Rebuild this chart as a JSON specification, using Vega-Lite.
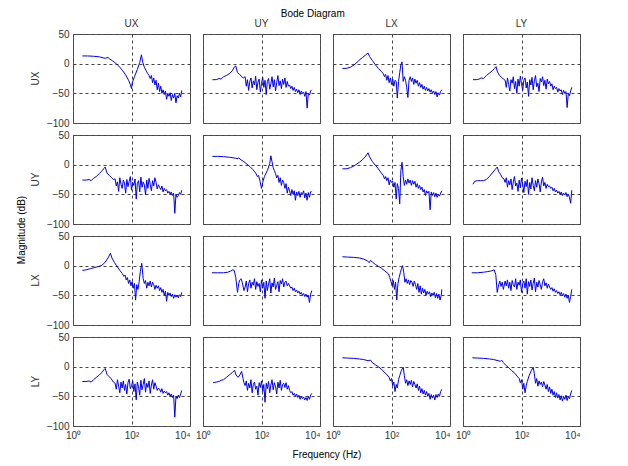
{
"$schema":"https://vega.github.io/schema/vega-lite/v6.json",
"background":"white",
"padding":{"left":16,"top":9,"right":5,"bottom":5},
"title":{"text":"Bode Diagram","fontSize":10,"fontWeight":"normal","font":"Liberation Sans","color":"#000","offset":0,"anchor":"middle","dx":14},
"data":{"values":[
{"r":"UX","c":"UX","f":2.09,"m":13},{"r":"UX","c":"UX","f":3.16,"m":13},{"r":"UX","c":"UX","f":5.01,"m":12.5},{"r":"UX","c":"UX","f":7.94,"m":11.5},{"r":"UX","c":"UX","f":12.6,"m":9},{"r":"UX","c":"UX","f":15.8,"m":10.5},{"r":"UX","c":"UX","f":17.8,"m":8},{"r":"UX","c":"UX","f":22.4,"m":5},{"r":"UX","c":"UX","f":31.6,"m":-1},{"r":"UX","c":"UX","f":39.8,"m":-6},{"r":"UX","c":"UX","f":50.1,"m":-12},{"r":"UX","c":"UX","f":63.1,"m":-19},{"r":"UX","c":"UX","f":79.4,"m":-28},{"r":"UX","c":"UX","f":91.2,"m":-35},{"r":"UX","c":"UX","f":100,"m":-42},{"r":"UX","c":"UX","f":105,"m":-33},{"r":"UX","c":"UX","f":126,"m":-22},{"r":"UX","c":"UX","f":158,"m":-10},{"r":"UX","c":"UX","f":191,"m":2},{"r":"UX","c":"UX","f":219,"m":15},{"r":"UX","c":"UX","f":240,"m":3},{"r":"UX","c":"UX","f":275,"m":-6},{"r":"UX","c":"UX","f":316,"m":-12},{"r":"UX","c":"UX","f":363,"m":-17},{"r":"UX","c":"UX","f":398,"m":-20},{"r":"UX","c":"UX","f":437,"m":-25},{"r":"UX","c":"UX","f":479,"m":-20},{"r":"UX","c":"UX","f":525,"m":-32},{"r":"UX","c":"UX","f":575,"m":-24},{"r":"UX","c":"UX","f":631,"m":-36},{"r":"UX","c":"UX","f":692,"m":-28},{"r":"UX","c":"UX","f":759,"m":-44},{"r":"UX","c":"UX","f":832,"m":-33},{"r":"UX","c":"UX","f":912,"m":-47},{"r":"UX","c":"UX","f":1000,"m":-38},{"r":"UX","c":"UX","f":1096,"m":-50},{"r":"UX","c":"UX","f":1202,"m":-44},{"r":"UX","c":"UX","f":1318,"m":-52},{"r":"UX","c":"UX","f":1445,"m":-46},{"r":"UX","c":"UX","f":1585,"m":-60},{"r":"UX","c":"UX","f":1738,"m":-50},{"r":"UX","c":"UX","f":1905,"m":-55},{"r":"UX","c":"UX","f":2089,"m":-49},{"r":"UX","c":"UX","f":2291,"m":-62},{"r":"UX","c":"UX","f":2512,"m":-52},{"r":"UX","c":"UX","f":2754,"m":-58},{"r":"UX","c":"UX","f":3020,"m":-50},{"r":"UX","c":"UX","f":3311,"m":-66},{"r":"UX","c":"UX","f":3631,"m":-54},{"r":"UX","c":"UX","f":3981,"m":-58},{"r":"UX","c":"UX","f":4365,"m":-50},{"r":"UX","c":"UX","f":4786,"m":-56},{"r":"UX","c":"UX","f":5248,"m":-45},

{"r":"UX","c":"UY","f":2.09,"m":-27},{"r":"UX","c":"UY","f":2.82,"m":-27},{"r":"UX","c":"UY","f":3.55,"m":-25},{"r":"UX","c":"UY","f":4.17,"m":-26},{"r":"UX","c":"UY","f":5.01,"m":-22},{"r":"UX","c":"UY","f":6.31,"m":-20},{"r":"UX","c":"UY","f":7.94,"m":-17},{"r":"UX","c":"UY","f":10,"m":-12},{"r":"UX","c":"UY","f":12.0,"m":-5},{"r":"UX","c":"UY","f":13.2,"m":-4},{"r":"UX","c":"UY","f":15.1,"m":-15},{"r":"UX","c":"UY","f":17.8,"m":-18},{"r":"UX","c":"UY","f":20.9,"m":-22},{"r":"UX","c":"UY","f":24.0,"m":-24},
{"r":"UX","c":"UY","f":27.5,"m":-22},{"r":"UX","c":"UY","f":30.2,"m":-38},{"r":"UX","c":"UY","f":33.1,"m":-27},{"r":"UX","c":"UY","f":36.3,"m":-45},{"r":"UX","c":"UY","f":39.8,"m":-30},{"r":"UX","c":"UY","f":43.7,"m":-24},{"r":"UX","c":"UY","f":47.9,"m":-41},{"r":"UX","c":"UY","f":52.5,"m":-29},{"r":"UX","c":"UY","f":57.5,"m":-36},{"r":"UX","c":"UY","f":63.1,"m":-21},{"r":"UX","c":"UY","f":69.2,"m":-44},{"r":"UX","c":"UY","f":75.9,"m":-31},{"r":"UX","c":"UY","f":83.2,"m":-26},{"r":"UX","c":"UY","f":91.2,"m":-48},{"r":"UX","c":"UY","f":100,"m":-33},{"r":"UX","c":"UY","f":110,"m":-23},{"r":"UX","c":"UY","f":120,"m":-40},{"r":"UX","c":"UY","f":132,"m":-28},{"r":"UX","c":"UY","f":145,"m":-52},{"r":"UX","c":"UY","f":158,"m":-30},{"r":"UX","c":"UY","f":174,"m":-25},{"r":"UX","c":"UY","f":191,"m":-43},{"r":"UX","c":"UY","f":209,"m":-34},{"r":"UX","c":"UY","f":229,"m":-22},{"r":"UX","c":"UY","f":251,"m":-39},{"r":"UX","c":"UY","f":275,"m":-27},{"r":"UX","c":"UY","f":302,"m":-46},{"r":"UX","c":"UY","f":331,"m":-32},{"r":"UX","c":"UY","f":363,"m":-20},{"r":"UX","c":"UY","f":398,"m":-37},{"r":"UX","c":"UY","f":437,"m":-29},{"r":"UX","c":"UY","f":479,"m":-42},{"r":"UX","c":"UY","f":525,"m":-26},{"r":"UX","c":"UY","f":575,"m":-35},{"r":"UX","c":"UY","f":631,"m":-24},{"r":"UX","c":"UY","f":692,"m":-40},{"r":"UX","c":"UY","f":759,"m":-30},{"r":"UX","c":"UY","f":832,"m":-38},
{"r":"UX","c":"UY","f":912,"m":-36},{"r":"UX","c":"UY","f":1000,"m":-42},{"r":"UX","c":"UY","f":1096,"m":-38},{"r":"UX","c":"UY","f":1202,"m":-45},{"r":"UX","c":"UY","f":1318,"m":-40},{"r":"UX","c":"UY","f":1445,"m":-47},{"r":"UX","c":"UY","f":1585,"m":-43},{"r":"UX","c":"UY","f":1738,"m":-49},{"r":"UX","c":"UY","f":1905,"m":-44},{"r":"UX","c":"UY","f":2089,"m":-52},{"r":"UX","c":"UY","f":2291,"m":-46},{"r":"UX","c":"UY","f":2512,"m":-50},{"r":"UX","c":"UY","f":2754,"m":-48},{"r":"UX","c":"UY","f":3020,"m":-55},{"r":"UX","c":"UY","f":3311,"m":-47},{"r":"UX","c":"UY","f":3631,"m":-75},{"r":"UX","c":"UY","f":3981,"m":-50},{"r":"UX","c":"UY","f":4365,"m":-53},{"r":"UX","c":"UY","f":4786,"m":-46},{"r":"UX","c":"UY","f":5248,"m":-44},

{"r":"UX","c":"LX","f":2.09,"m":-8},{"r":"UX","c":"LX","f":2.82,"m":-8},{"r":"UX","c":"LX","f":3.98,"m":-6},{"r":"UX","c":"LX","f":5.62,"m":-1},{"r":"UX","c":"LX","f":7.94,"m":6},{"r":"UX","c":"LX","f":10,"m":10},{"r":"UX","c":"LX","f":12.6,"m":14},{"r":"UX","c":"LX","f":15.8,"m":18},{"r":"UX","c":"LX","f":17.8,"m":12},{"r":"UX","c":"LX","f":22.4,"m":5},{"r":"UX","c":"LX","f":28.2,"m":-2},{"r":"UX","c":"LX","f":35.5,"m":-8},{"r":"UX","c":"LX","f":44.7,"m":-13},{"r":"UX","c":"LX","f":52.5,"m":-17},{"r":"UX","c":"LX","f":57.5,"m":-22},{"r":"UX","c":"LX","f":63.1,"m":-18},{"r":"UX","c":"LX","f":69.2,"m":-28},{"r":"UX","c":"LX","f":75.9,"m":-20},{"r":"UX","c":"LX","f":83.2,"m":-32},{"r":"UX","c":"LX","f":91.2,"m":-24},{"r":"UX","c":"LX","f":100,"m":-35},{"r":"UX","c":"LX","f":110,"m":-26},{"r":"UX","c":"LX","f":120,"m":-38},{"r":"UX","c":"LX","f":132,"m":-28},{"r":"UX","c":"LX","f":145,"m":-30},{"r":"UX","c":"LX","f":158,"m":-58},{"r":"UX","c":"LX","f":174,"m":-30},{"r":"UX","c":"LX","f":191,"m":-15},{"r":"UX","c":"LX","f":209,"m":-2},{"r":"UX","c":"LX","f":229,"m":3},{"r":"UX","c":"LX","f":251,"m":-30},{"r":"UX","c":"LX","f":275,"m":-22},{"r":"UX","c":"LX","f":302,"m":-28},{"r":"UX","c":"LX","f":331,"m":-40},{"r":"UX","c":"LX","f":363,"m":-57},{"r":"UX","c":"LX","f":398,"m":-28},{"r":"UX","c":"LX","f":437,"m":-22},{"r":"UX","c":"LX","f":479,"m":-30},{"r":"UX","c":"LX","f":525,"m":-24},{"r":"UX","c":"LX","f":575,"m":-35},{"r":"UX","c":"LX","f":631,"m":-26},{"r":"UX","c":"LX","f":692,"m":-33},{"r":"UX","c":"LX","f":759,"m":-28},{"r":"UX","c":"LX","f":832,"m":-38},{"r":"UX","c":"LX","f":912,"m":-32},{"r":"UX","c":"LX","f":1000,"m":-40},{"r":"UX","c":"LX","f":1096,"m":-35},{"r":"UX","c":"LX","f":1202,"m":-43},{"r":"UX","c":"LX","f":1318,"m":-38},{"r":"UX","c":"LX","f":1445,"m":-45},{"r":"UX","c":"LX","f":1585,"m":-40},{"r":"UX","c":"LX","f":1738,"m":-46},{"r":"UX","c":"LX","f":1905,"m":-42},{"r":"UX","c":"LX","f":2089,"m":-48},{"r":"UX","c":"LX","f":2291,"m":-44},{"r":"UX","c":"LX","f":2512,"m":-50},{"r":"UX","c":"LX","f":2754,"m":-46},{"r":"UX","c":"LX","f":3020,"m":-52},{"r":"UX","c":"LX","f":3311,"m":-47},{"r":"UX","c":"LX","f":3631,"m":-56},{"r":"UX","c":"LX","f":3981,"m":-49},{"r":"UX","c":"LX","f":4365,"m":-53},{"r":"UX","c":"LX","f":4786,"m":-47},{"r":"UX","c":"LX","f":5248,"m":-44},

{"r":"UX","c":"LY","f":2.19,"m":-27},{"r":"UX","c":"LY","f":2.82,"m":-27},{"r":"UX","c":"LY","f":3.55,"m":-26},{"r":"UX","c":"LY","f":4.17,"m":-24},{"r":"UX","c":"LY","f":5.01,"m":-25},{"r":"UX","c":"LY","f":6.31,"m":-20},{"r":"UX","c":"LY","f":7.94,"m":-16},{"r":"UX","c":"LY","f":10,"m":-12},{"r":"UX","c":"LY","f":12.0,"m":-8},{"r":"UX","c":"LY","f":13.5,"m":-5},{"r":"UX","c":"LY","f":15.1,"m":-14},{"r":"UX","c":"LY","f":17.8,"m":-20},{"r":"UX","c":"LY","f":20.9,"m":-23},{"r":"UX","c":"LY","f":24.0,"m":-26},
{"r":"UX","c":"LY","f":27.5,"m":-28},{"r":"UX","c":"LY","f":30.2,"m":-40},{"r":"UX","c":"LY","f":33.1,"m":-24},{"r":"UX","c":"LY","f":36.3,"m":-35},{"r":"UX","c":"LY","f":39.8,"m":-46},{"r":"UX","c":"LY","f":43.7,"m":-27},{"r":"UX","c":"LY","f":47.9,"m":-33},{"r":"UX","c":"LY","f":52.5,"m":-22},{"r":"UX","c":"LY","f":57.5,"m":-42},{"r":"UX","c":"LY","f":63.1,"m":-30},{"r":"UX","c":"LY","f":69.2,"m":-50},{"r":"UX","c":"LY","f":75.9,"m":-26},{"r":"UX","c":"LY","f":83.2,"m":-38},{"r":"UX","c":"LY","f":91.2,"m":-21},{"r":"UX","c":"LY","f":100,"m":-34},{"r":"UX","c":"LY","f":110,"m":-45},{"r":"UX","c":"LY","f":120,"m":-28},{"r":"UX","c":"LY","f":132,"m":-24},{"r":"UX","c":"LY","f":145,"m":-41},{"r":"UX","c":"LY","f":158,"m":-31},{"r":"UX","c":"LY","f":174,"m":-55},{"r":"UX","c":"LY","f":191,"m":-27},{"r":"UX","c":"LY","f":209,"m":-36},{"r":"UX","c":"LY","f":229,"m":-23},{"r":"UX","c":"LY","f":251,"m":-44},{"r":"UX","c":"LY","f":275,"m":-29},{"r":"UX","c":"LY","f":302,"m":-20},{"r":"UX","c":"LY","f":331,"m":-39},{"r":"UX","c":"LY","f":363,"m":-33},{"r":"UX","c":"LY","f":398,"m":-47},{"r":"UX","c":"LY","f":437,"m":-25},{"r":"UX","c":"LY","f":479,"m":-31},{"r":"UX","c":"LY","f":525,"m":-22},{"r":"UX","c":"LY","f":575,"m":-37},{"r":"UX","c":"LY","f":631,"m":-28},{"r":"UX","c":"LY","f":692,"m":-43},{"r":"UX","c":"LY","f":759,"m":-26},{"r":"UX","c":"LY","f":832,"m":-34},
{"r":"UX","c":"LY","f":912,"m":-30},{"r":"UX","c":"LY","f":1000,"m":-38},{"r":"UX","c":"LY","f":1096,"m":-34},{"r":"UX","c":"LY","f":1202,"m":-44},{"r":"UX","c":"LY","f":1318,"m":-38},{"r":"UX","c":"LY","f":1445,"m":-42},{"r":"UX","c":"LY","f":1585,"m":-40},{"r":"UX","c":"LY","f":1738,"m":-48},{"r":"UX","c":"LY","f":1905,"m":-42},{"r":"UX","c":"LY","f":2089,"m":-46},{"r":"UX","c":"LY","f":2291,"m":-44},{"r":"UX","c":"LY","f":2512,"m":-52},{"r":"UX","c":"LY","f":2754,"m":-45},{"r":"UX","c":"LY","f":3020,"m":-50},{"r":"UX","c":"LY","f":3311,"m":-47},{"r":"UX","c":"LY","f":3631,"m":-74},{"r":"UX","c":"LY","f":3981,"m":-50},{"r":"UX","c":"LY","f":4365,"m":-54},{"r":"UX","c":"LY","f":4786,"m":-46},{"r":"UX","c":"LY","f":5248,"m":-40},

{"r":"UY","c":"UX","f":2.09,"m":-26},{"r":"UY","c":"UX","f":2.82,"m":-26},{"r":"UY","c":"UX","f":3.55,"m":-25},{"r":"UY","c":"UX","f":4.17,"m":-27},{"r":"UY","c":"UX","f":5.01,"m":-23},{"r":"UY","c":"UX","f":6.31,"m":-20},{"r":"UY","c":"UX","f":7.94,"m":-15},{"r":"UY","c":"UX","f":10,"m":-10},{"r":"UY","c":"UX","f":11.5,"m":-6},{"r":"UY","c":"UX","f":12.6,"m":-4},{"r":"UY","c":"UX","f":14.5,"m":-14},{"r":"UY","c":"UX","f":17.4,"m":-18},{"r":"UY","c":"UX","f":20.9,"m":-22},{"r":"UY","c":"UX","f":24.0,"m":-25},
{"r":"UY","c":"UX","f":27.5,"m":-24},{"r":"UY","c":"UX","f":30.2,"m":-36},{"r":"UY","c":"UX","f":33.1,"m":-29},{"r":"UY","c":"UX","f":36.3,"m":-45},{"r":"UY","c":"UX","f":39.8,"m":-22},{"r":"UY","c":"UX","f":43.7,"m":-33},{"r":"UY","c":"UX","f":47.9,"m":-40},{"r":"UY","c":"UX","f":52.5,"m":-26},{"r":"UY","c":"UX","f":57.5,"m":-31},{"r":"UY","c":"UX","f":63.1,"m":-48},{"r":"UY","c":"UX","f":69.2,"m":-25},{"r":"UY","c":"UX","f":75.9,"m":-37},{"r":"UY","c":"UX","f":83.2,"m":-28},{"r":"UY","c":"UX","f":91.2,"m":-20},{"r":"UY","c":"UX","f":100,"m":-43},{"r":"UY","c":"UX","f":110,"m":-30},{"r":"UY","c":"UX","f":120,"m":-35},{"r":"UY","c":"UX","f":132,"m":-24},{"r":"UY","c":"UX","f":145,"m":-58},{"r":"UY","c":"UX","f":158,"m":-32},{"r":"UY","c":"UX","f":174,"m":-27},{"r":"UY","c":"UX","f":191,"m":-46},{"r":"UY","c":"UX","f":209,"m":-21},{"r":"UY","c":"UX","f":229,"m":-38},{"r":"UY","c":"UX","f":251,"m":-29},{"r":"UY","c":"UX","f":275,"m":-34},{"r":"UY","c":"UX","f":302,"m":-51},{"r":"UY","c":"UX","f":331,"m":-26},{"r":"UY","c":"UX","f":363,"m":-40},{"r":"UY","c":"UX","f":398,"m":-23},{"r":"UY","c":"UX","f":437,"m":-33},{"r":"UY","c":"UX","f":479,"m":-44},{"r":"UY","c":"UX","f":525,"m":-27},{"r":"UY","c":"UX","f":575,"m":-36},{"r":"UY","c":"UX","f":631,"m":-22},{"r":"UY","c":"UX","f":692,"m":-30},{"r":"UY","c":"UX","f":759,"m":-41},{"r":"UY","c":"UX","f":832,"m":-34},
{"r":"UY","c":"UX","f":912,"m":-38},{"r":"UY","c":"UX","f":1000,"m":-42},{"r":"UY","c":"UX","f":1096,"m":-36},{"r":"UY","c":"UX","f":1202,"m":-46},{"r":"UY","c":"UX","f":1318,"m":-40},{"r":"UY","c":"UX","f":1445,"m":-44},{"r":"UY","c":"UX","f":1585,"m":-42},{"r":"UY","c":"UX","f":1738,"m":-48},{"r":"UY","c":"UX","f":1905,"m":-45},{"r":"UY","c":"UX","f":2089,"m":-50},{"r":"UY","c":"UX","f":2291,"m":-46},{"r":"UY","c":"UX","f":2512,"m":-52},{"r":"UY","c":"UX","f":2754,"m":-48},{"r":"UY","c":"UX","f":3020,"m":-82},{"r":"UY","c":"UX","f":3311,"m":-50},{"r":"UY","c":"UX","f":3631,"m":-55},{"r":"UY","c":"UX","f":3981,"m":-52},{"r":"UY","c":"UX","f":4365,"m":-47},{"r":"UY","c":"UX","f":4786,"m":-50},{"r":"UY","c":"UX","f":5248,"m":-43},

{"r":"UY","c":"UY","f":2.09,"m":14},{"r":"UY","c":"UY","f":3.16,"m":14},{"r":"UY","c":"UY","f":5.01,"m":13.5},{"r":"UY","c":"UY","f":7.94,"m":12.5},{"r":"UY","c":"UY","f":12.6,"m":11},{"r":"UY","c":"UY","f":15.8,"m":10},{"r":"UY","c":"UY","f":16.6,"m":11.5},{"r":"UY","c":"UY","f":20.0,"m":8},{"r":"UY","c":"UY","f":25.1,"m":5},{"r":"UY","c":"UY","f":31.6,"m":1},{"r":"UY","c":"UY","f":39.8,"m":-3},{"r":"UY","c":"UY","f":50.1,"m":-8},{"r":"UY","c":"UY","f":63.1,"m":-14},{"r":"UY","c":"UY","f":72.4,"m":-20},{"r":"UY","c":"UY","f":79.4,"m":-18},{"r":"UY","c":"UY","f":89.1,"m":-28},{"r":"UY","c":"UY","f":100,"m":-40},{"r":"UY","c":"UY","f":110,"m":-30},{"r":"UY","c":"UY","f":126,"m":-20},{"r":"UY","c":"UY","f":158,"m":-10},{"r":"UY","c":"UY","f":191,"m":2},{"r":"UY","c":"UY","f":209,"m":15},{"r":"UY","c":"UY","f":229,"m":5},{"r":"UY","c":"UY","f":251,"m":-5},{"r":"UY","c":"UY","f":275,"m":-10},{"r":"UY","c":"UY","f":302,"m":-15},{"r":"UY","c":"UY","f":331,"m":-22},{"r":"UY","c":"UY","f":363,"m":-18},{"r":"UY","c":"UY","f":398,"m":-30},{"r":"UY","c":"UY","f":437,"m":-22},{"r":"UY","c":"UY","f":479,"m":-35},{"r":"UY","c":"UY","f":525,"m":-26},{"r":"UY","c":"UY","f":575,"m":-30},{"r":"UY","c":"UY","f":631,"m":-40},{"r":"UY","c":"UY","f":692,"m":-32},{"r":"UY","c":"UY","f":759,"m":-48},{"r":"UY","c":"UY","f":832,"m":-38},{"r":"UY","c":"UY","f":912,"m":-44},{"r":"UY","c":"UY","f":1000,"m":-52},{"r":"UY","c":"UY","f":1096,"m":-42},{"r":"UY","c":"UY","f":1202,"m":-50},{"r":"UY","c":"UY","f":1318,"m":-44},{"r":"UY","c":"UY","f":1445,"m":-60},{"r":"UY","c":"UY","f":1585,"m":-46},{"r":"UY","c":"UY","f":1738,"m":-52},{"r":"UY","c":"UY","f":1905,"m":-45},{"r":"UY","c":"UY","f":2089,"m":-55},{"r":"UY","c":"UY","f":2291,"m":-47},{"r":"UY","c":"UY","f":2512,"m":-50},{"r":"UY","c":"UY","f":2754,"m":-44},{"r":"UY","c":"UY","f":3020,"m":-56},{"r":"UY","c":"UY","f":3311,"m":-48},{"r":"UY","c":"UY","f":3631,"m":-60},{"r":"UY","c":"UY","f":3981,"m":-47},{"r":"UY","c":"UY","f":4365,"m":-55},{"r":"UY","c":"UY","f":4786,"m":-46},{"r":"UY","c":"UY","f":5248,"m":-44},

{"r":"UY","c":"LX","f":2.09,"m":-7},{"r":"UY","c":"LX","f":2.82,"m":-7},{"r":"UY","c":"LX","f":3.98,"m":-5},{"r":"UY","c":"LX","f":5.62,"m":-1},{"r":"UY","c":"LX","f":7.94,"m":4},{"r":"UY","c":"LX","f":10,"m":8},{"r":"UY","c":"LX","f":12.6,"m":13},{"r":"UY","c":"LX","f":15.8,"m":20},{"r":"UY","c":"LX","f":17.8,"m":13},{"r":"UY","c":"LX","f":22.4,"m":5},{"r":"UY","c":"LX","f":28.2,"m":-1},{"r":"UY","c":"LX","f":35.5,"m":-7},{"r":"UY","c":"LX","f":44.7,"m":-14},{"r":"UY","c":"LX","f":52.5,"m":-18},{"r":"UY","c":"LX","f":57.5,"m":-24},{"r":"UY","c":"LX","f":63.1,"m":-20},{"r":"UY","c":"LX","f":69.2,"m":-27},{"r":"UY","c":"LX","f":75.9,"m":-22},{"r":"UY","c":"LX","f":83.2,"m":-34},{"r":"UY","c":"LX","f":91.2,"m":-26},{"r":"UY","c":"LX","f":100,"m":-30},{"r":"UY","c":"LX","f":110,"m":-28},{"r":"UY","c":"LX","f":120,"m":-38},{"r":"UY","c":"LX","f":132,"m":-30},{"r":"UY","c":"LX","f":145,"m":-58},{"r":"UY","c":"LX","f":158,"m":-32},{"r":"UY","c":"LX","f":174,"m":-40},{"r":"UY","c":"LX","f":191,"m":-66},{"r":"UY","c":"LX","f":209,"m":-10},{"r":"UY","c":"LX","f":229,"m":4},{"r":"UY","c":"LX","f":251,"m":-20},{"r":"UY","c":"LX","f":275,"m":-35},{"r":"UY","c":"LX","f":302,"m":-26},{"r":"UY","c":"LX","f":331,"m":-33},{"r":"UY","c":"LX","f":363,"m":-24},{"r":"UY","c":"LX","f":398,"m":-31},{"r":"UY","c":"LX","f":437,"m":-26},{"r":"UY","c":"LX","f":479,"m":-35},{"r":"UY","c":"LX","f":525,"m":-27},{"r":"UY","c":"LX","f":575,"m":-33},{"r":"UY","c":"LX","f":631,"m":-28},{"r":"UY","c":"LX","f":692,"m":-38},{"r":"UY","c":"LX","f":759,"m":-32},{"r":"UY","c":"LX","f":832,"m":-40},{"r":"UY","c":"LX","f":912,"m":-35},{"r":"UY","c":"LX","f":1000,"m":-42},{"r":"UY","c":"LX","f":1096,"m":-38},{"r":"UY","c":"LX","f":1202,"m":-46},{"r":"UY","c":"LX","f":1318,"m":-42},{"r":"UY","c":"LX","f":1445,"m":-52},{"r":"UY","c":"LX","f":1585,"m":-44},{"r":"UY","c":"LX","f":1738,"m":-48},{"r":"UY","c":"LX","f":1905,"m":-45},{"r":"UY","c":"LX","f":2089,"m":-76},{"r":"UY","c":"LX","f":2291,"m":-46},{"r":"UY","c":"LX","f":2512,"m":-52},{"r":"UY","c":"LX","f":2754,"m":-47},{"r":"UY","c":"LX","f":3020,"m":-54},{"r":"UY","c":"LX","f":3311,"m":-48},{"r":"UY","c":"LX","f":3631,"m":-55},{"r":"UY","c":"LX","f":3981,"m":-50},{"r":"UY","c":"LX","f":4365,"m":-53},{"r":"UY","c":"LX","f":4786,"m":-48},{"r":"UY","c":"LX","f":5248,"m":-44},

{"r":"UY","c":"LY","f":2.19,"m":-33},{"r":"UY","c":"LY","f":2.51,"m":-28},{"r":"UY","c":"LY","f":3.16,"m":-27},{"r":"UY","c":"LY","f":3.98,"m":-27},{"r":"UY","c":"LY","f":5.01,"m":-27},{"r":"UY","c":"LY","f":6.31,"m":-25},{"r":"UY","c":"LY","f":7.94,"m":-20},{"r":"UY","c":"LY","f":10,"m":-14},{"r":"UY","c":"LY","f":12.6,"m":-8},{"r":"UY","c":"LY","f":14.8,"m":-4},{"r":"UY","c":"LY","f":16.6,"m":-12},{"r":"UY","c":"LY","f":19.1,"m":-16},{"r":"UY","c":"LY","f":21.9,"m":-22},{"r":"UY","c":"LY","f":25.1,"m":-24},
{"r":"UY","c":"LY","f":27.5,"m":-30},{"r":"UY","c":"LY","f":30.2,"m":-22},{"r":"UY","c":"LY","f":33.1,"m":-38},{"r":"UY","c":"LY","f":36.3,"m":-27},{"r":"UY","c":"LY","f":39.8,"m":-34},{"r":"UY","c":"LY","f":43.7,"m":-24},{"r":"UY","c":"LY","f":47.9,"m":-42},{"r":"UY","c":"LY","f":52.5,"m":-29},{"r":"UY","c":"LY","f":57.5,"m":-20},{"r":"UY","c":"LY","f":63.1,"m":-36},{"r":"UY","c":"LY","f":69.2,"m":-31},{"r":"UY","c":"LY","f":75.9,"m":-45},{"r":"UY","c":"LY","f":83.2,"m":-26},{"r":"UY","c":"LY","f":91.2,"m":-39},{"r":"UY","c":"LY","f":100,"m":-23},{"r":"UY","c":"LY","f":110,"m":-33},{"r":"UY","c":"LY","f":120,"m":-47},{"r":"UY","c":"LY","f":132,"m":-28},{"r":"UY","c":"LY","f":145,"m":-37},{"r":"UY","c":"LY","f":158,"m":-25},{"r":"UY","c":"LY","f":174,"m":-50},{"r":"UY","c":"LY","f":191,"m":-30},{"r":"UY","c":"LY","f":209,"m":-41},{"r":"UY","c":"LY","f":229,"m":-22},{"r":"UY","c":"LY","f":251,"m":-35},{"r":"UY","c":"LY","f":275,"m":-44},{"r":"UY","c":"LY","f":302,"m":-27},{"r":"UY","c":"LY","f":331,"m":-38},{"r":"UY","c":"LY","f":363,"m":-24},{"r":"UY","c":"LY","f":398,"m":-32},{"r":"UY","c":"LY","f":437,"m":-46},{"r":"UY","c":"LY","f":479,"m":-29},{"r":"UY","c":"LY","f":525,"m":-21},{"r":"UY","c":"LY","f":575,"m":-36},{"r":"UY","c":"LY","f":631,"m":-30},{"r":"UY","c":"LY","f":692,"m":-40},{"r":"UY","c":"LY","f":759,"m":-33},{"r":"UY","c":"LY","f":832,"m":-37},
{"r":"UY","c":"LY","f":912,"m":-36},{"r":"UY","c":"LY","f":1000,"m":-40},{"r":"UY","c":"LY","f":1096,"m":-38},{"r":"UY","c":"LY","f":1202,"m":-44},{"r":"UY","c":"LY","f":1318,"m":-40},{"r":"UY","c":"LY","f":1445,"m":-46},{"r":"UY","c":"LY","f":1585,"m":-43},{"r":"UY","c":"LY","f":1738,"m":-48},{"r":"UY","c":"LY","f":1905,"m":-45},{"r":"UY","c":"LY","f":2089,"m":-50},{"r":"UY","c":"LY","f":2291,"m":-46},{"r":"UY","c":"LY","f":2512,"m":-52},{"r":"UY","c":"LY","f":2754,"m":-48},{"r":"UY","c":"LY","f":3020,"m":-51},{"r":"UY","c":"LY","f":3311,"m":-47},{"r":"UY","c":"LY","f":3631,"m":-54},{"r":"UY","c":"LY","f":3981,"m":-50},{"r":"UY","c":"LY","f":4365,"m":-55},{"r":"UY","c":"LY","f":4786,"m":-65},{"r":"UY","c":"LY","f":5248,"m":-43},

{"r":"LX","c":"UX","f":2.09,"m":-8},{"r":"LX","c":"UX","f":2.82,"m":-7},{"r":"LX","c":"UX","f":3.98,"m":-5},{"r":"LX","c":"UX","f":5.62,"m":-3},{"r":"LX","c":"UX","f":7.94,"m":-1},{"r":"LX","c":"UX","f":10,"m":1},{"r":"LX","c":"UX","f":12.6,"m":6},{"r":"LX","c":"UX","f":15.8,"m":13},{"r":"LX","c":"UX","f":19.1,"m":21},{"r":"LX","c":"UX","f":21.4,"m":13},{"r":"LX","c":"UX","f":26.3,"m":5},{"r":"LX","c":"UX","f":31.6,"m":-1},{"r":"LX","c":"UX","f":39.8,"m":-8},{"r":"LX","c":"UX","f":47.9,"m":-13},{"r":"LX","c":"UX","f":55.0,"m":-18},{"r":"LX","c":"UX","f":60.3,"m":-16},{"r":"LX","c":"UX","f":66.1,"m":-24},{"r":"LX","c":"UX","f":72.4,"m":-20},{"r":"LX","c":"UX","f":79.4,"m":-30},{"r":"LX","c":"UX","f":87.1,"m":-24},{"r":"LX","c":"UX","f":95.5,"m":-34},{"r":"LX","c":"UX","f":105,"m":-27},{"r":"LX","c":"UX","f":115,"m":-38},{"r":"LX","c":"UX","f":126,"m":-30},{"r":"LX","c":"UX","f":138,"m":-58},{"r":"LX","c":"UX","f":151,"m":-32},{"r":"LX","c":"UX","f":166,"m":-40},{"r":"LX","c":"UX","f":182,"m":-28},{"r":"LX","c":"UX","f":200,"m":-10},{"r":"LX","c":"UX","f":224,"m":4},{"r":"LX","c":"UX","f":251,"m":-22},{"r":"LX","c":"UX","f":275,"m":-30},{"r":"LX","c":"UX","f":302,"m":-25},{"r":"LX","c":"UX","f":331,"m":-38},{"r":"LX","c":"UX","f":363,"m":-28},{"r":"LX","c":"UX","f":398,"m":-34},{"r":"LX","c":"UX","f":437,"m":-26},{"r":"LX","c":"UX","f":479,"m":-36},{"r":"LX","c":"UX","f":525,"m":-28},{"r":"LX","c":"UX","f":575,"m":-32},{"r":"LX","c":"UX","f":631,"m":-40},{"r":"LX","c":"UX","f":692,"m":-33},{"r":"LX","c":"UX","f":759,"m":-38},{"r":"LX","c":"UX","f":832,"m":-34},{"r":"LX","c":"UX","f":912,"m":-42},{"r":"LX","c":"UX","f":1000,"m":-37},{"r":"LX","c":"UX","f":1096,"m":-45},{"r":"LX","c":"UX","f":1202,"m":-40},{"r":"LX","c":"UX","f":1318,"m":-50},{"r":"LX","c":"UX","f":1445,"m":-43},{"r":"LX","c":"UX","f":1585,"m":-60},{"r":"LX","c":"UX","f":1738,"m":-45},{"r":"LX","c":"UX","f":1905,"m":-50},{"r":"LX","c":"UX","f":2089,"m":-46},{"r":"LX","c":"UX","f":2291,"m":-52},{"r":"LX","c":"UX","f":2512,"m":-48},{"r":"LX","c":"UX","f":2754,"m":-55},{"r":"LX","c":"UX","f":3020,"m":-49},{"r":"LX","c":"UX","f":3311,"m":-53},{"r":"LX","c":"UX","f":3631,"m":-50},{"r":"LX","c":"UX","f":3981,"m":-54},{"r":"LX","c":"UX","f":4365,"m":-49},{"r":"LX","c":"UX","f":4786,"m":-52},{"r":"LX","c":"UX","f":5248,"m":-45},

{"r":"LX","c":"UY","f":2.0,"m":-12},{"r":"LX","c":"UY","f":3.16,"m":-12},{"r":"LX","c":"UY","f":5.01,"m":-12},{"r":"LX","c":"UY","f":7.08,"m":-11},{"r":"LX","c":"UY","f":8.91,"m":-9},{"r":"LX","c":"UY","f":10.5,"m":-7},{"r":"LX","c":"UY","f":11.7,"m":-8},{"r":"LX","c":"UY","f":13.2,"m":-20},{"r":"LX","c":"UY","f":15.1,"m":-45},{"r":"LX","c":"UY","f":16.6,"m":-30},{"r":"LX","c":"UY","f":18.2,"m":-24},{"r":"LX","c":"UY","f":20.0,"m":-22},{"r":"LX","c":"UY","f":21.9,"m":-28},{"r":"LX","c":"UY","f":25.1,"m":-42},
{"r":"LX","c":"UY","f":27.5,"m":-36},{"r":"LX","c":"UY","f":30.2,"m":-26},{"r":"LX","c":"UY","f":33.1,"m":-44},{"r":"LX","c":"UY","f":36.3,"m":-30},{"r":"LX","c":"UY","f":39.8,"m":-24},{"r":"LX","c":"UY","f":43.7,"m":-38},{"r":"LX","c":"UY","f":47.9,"m":-28},{"r":"LX","c":"UY","f":52.5,"m":-33},{"r":"LX","c":"UY","f":57.5,"m":-22},{"r":"LX","c":"UY","f":63.1,"m":-40},{"r":"LX","c":"UY","f":69.2,"m":-27},{"r":"LX","c":"UY","f":75.9,"m":-35},{"r":"LX","c":"UY","f":83.2,"m":-30},{"r":"LX","c":"UY","f":91.2,"m":-44},{"r":"LX","c":"UY","f":100,"m":-24},{"r":"LX","c":"UY","f":110,"m":-38},{"r":"LX","c":"UY","f":120,"m":-28},{"r":"LX","c":"UY","f":132,"m":-55},{"r":"LX","c":"UY","f":145,"m":-26},{"r":"LX","c":"UY","f":158,"m":-42},{"r":"LX","c":"UY","f":174,"m":-31},{"r":"LX","c":"UY","f":191,"m":-22},{"r":"LX","c":"UY","f":209,"m":-46},{"r":"LX","c":"UY","f":229,"m":-29},{"r":"LX","c":"UY","f":251,"m":-36},{"r":"LX","c":"UY","f":275,"m":-21},{"r":"LX","c":"UY","f":302,"m":-40},{"r":"LX","c":"UY","f":331,"m":-33},{"r":"LX","c":"UY","f":363,"m":-27},{"r":"LX","c":"UY","f":398,"m":-44},{"r":"LX","c":"UY","f":437,"m":-25},{"r":"LX","c":"UY","f":479,"m":-31},{"r":"LX","c":"UY","f":525,"m":-22},{"r":"LX","c":"UY","f":575,"m":-36},{"r":"LX","c":"UY","f":631,"m":-28},{"r":"LX","c":"UY","f":692,"m":-26},{"r":"LX","c":"UY","f":759,"m":-34},{"r":"LX","c":"UY","f":832,"m":-30},
{"r":"LX","c":"UY","f":912,"m":-34},{"r":"LX","c":"UY","f":1000,"m":-38},{"r":"LX","c":"UY","f":1096,"m":-36},{"r":"LX","c":"UY","f":1202,"m":-42},{"r":"LX","c":"UY","f":1318,"m":-38},{"r":"LX","c":"UY","f":1445,"m":-44},{"r":"LX","c":"UY","f":1585,"m":-41},{"r":"LX","c":"UY","f":1738,"m":-46},{"r":"LX","c":"UY","f":1905,"m":-43},{"r":"LX","c":"UY","f":2089,"m":-48},{"r":"LX","c":"UY","f":2291,"m":-45},{"r":"LX","c":"UY","f":2512,"m":-50},{"r":"LX","c":"UY","f":2754,"m":-47},{"r":"LX","c":"UY","f":3020,"m":-52},{"r":"LX","c":"UY","f":3311,"m":-48},{"r":"LX","c":"UY","f":3631,"m":-53},{"r":"LX","c":"UY","f":3981,"m":-50},{"r":"LX","c":"UY","f":4365,"m":-62},{"r":"LX","c":"UY","f":4786,"m":-48},{"r":"LX","c":"UY","f":5248,"m":-42},

{"r":"LX","c":"LX","f":2.09,"m":15},{"r":"LX","c":"LX","f":3.16,"m":14.5},{"r":"LX","c":"LX","f":5.01,"m":14},{"r":"LX","c":"LX","f":7.94,"m":13},{"r":"LX","c":"LX","f":11.2,"m":11},{"r":"LX","c":"LX","f":15.1,"m":8},{"r":"LX","c":"LX","f":17.4,"m":5},{"r":"LX","c":"LX","f":19.1,"m":9},{"r":"LX","c":"LX","f":22.4,"m":6},{"r":"LX","c":"LX","f":28.2,"m":2},{"r":"LX","c":"LX","f":35.5,"m":-1},{"r":"LX","c":"LX","f":44.7,"m":-4},{"r":"LX","c":"LX","f":56.2,"m":-8},{"r":"LX","c":"LX","f":70.8,"m":-12},{"r":"LX","c":"LX","f":79.4,"m":-14},{"r":"LX","c":"LX","f":87.1,"m":-20},{"r":"LX","c":"LX","f":95.5,"m":-26},{"r":"LX","c":"LX","f":105,"m":-34},{"r":"LX","c":"LX","f":115,"m":-25},{"r":"LX","c":"LX","f":126,"m":-40},{"r":"LX","c":"LX","f":138,"m":-28},{"r":"LX","c":"LX","f":151,"m":-58},{"r":"LX","c":"LX","f":166,"m":-30},{"r":"LX","c":"LX","f":182,"m":-20},{"r":"LX","c":"LX","f":200,"m":-12},{"r":"LX","c":"LX","f":219,"m":-5},{"r":"LX","c":"LX","f":240,"m":0},{"r":"LX","c":"LX","f":263,"m":-12},{"r":"LX","c":"LX","f":288,"m":-28},{"r":"LX","c":"LX","f":316,"m":-22},{"r":"LX","c":"LX","f":347,"m":-30},{"r":"LX","c":"LX","f":380,"m":-24},{"r":"LX","c":"LX","f":417,"m":-32},{"r":"LX","c":"LX","f":457,"m":-25},{"r":"LX","c":"LX","f":501,"m":-28},{"r":"LX","c":"LX","f":550,"m":-35},{"r":"LX","c":"LX","f":603,"m":-26},{"r":"LX","c":"LX","f":661,"m":-32},{"r":"LX","c":"LX","f":724,"m":-40},{"r":"LX","c":"LX","f":794,"m":-30},{"r":"LX","c":"LX","f":871,"m":-45},{"r":"LX","c":"LX","f":955,"m":-34},{"r":"LX","c":"LX","f":1047,"m":-48},{"r":"LX","c":"LX","f":1148,"m":-38},{"r":"LX","c":"LX","f":1259,"m":-46},{"r":"LX","c":"LX","f":1380,"m":-40},{"r":"LX","c":"LX","f":1514,"m":-50},{"r":"LX","c":"LX","f":1660,"m":-43},{"r":"LX","c":"LX","f":1820,"m":-48},{"r":"LX","c":"LX","f":1995,"m":-44},{"r":"LX","c":"LX","f":2188,"m":-52},{"r":"LX","c":"LX","f":2399,"m":-46},{"r":"LX","c":"LX","f":2630,"m":-50},{"r":"LX","c":"LX","f":2884,"m":-45},{"r":"LX","c":"LX","f":3162,"m":-54},{"r":"LX","c":"LX","f":3467,"m":-47},{"r":"LX","c":"LX","f":3802,"m":-55},{"r":"LX","c":"LX","f":4169,"m":-48},{"r":"LX","c":"LX","f":4571,"m":-58},{"r":"LX","c":"LX","f":5012,"m":-50},{"r":"LX","c":"LX","f":5248,"m":-40},

{"r":"LX","c":"LY","f":2.0,"m":-12},{"r":"LX","c":"LY","f":3.16,"m":-12},{"r":"LX","c":"LY","f":5.01,"m":-11},{"r":"LX","c":"LY","f":7.08,"m":-10},{"r":"LX","c":"LY","f":8.91,"m":-9},{"r":"LX","c":"LY","f":10.5,"m":-8},{"r":"LX","c":"LY","f":11.7,"m":-7},{"r":"LX","c":"LY","f":13.2,"m":-15},{"r":"LX","c":"LY","f":14.8,"m":-45},{"r":"LX","c":"LY","f":16.6,"m":-32},{"r":"LX","c":"LY","f":18.2,"m":-26},{"r":"LX","c":"LY","f":20.0,"m":-35},{"r":"LX","c":"LY","f":21.9,"m":-28},{"r":"LX","c":"LY","f":24.0,"m":-40},
{"r":"LX","c":"LY","f":27.5,"m":-26},{"r":"LX","c":"LY","f":30.2,"m":-34},{"r":"LX","c":"LY","f":33.1,"m":-24},{"r":"LX","c":"LY","f":36.3,"m":-38},{"r":"LX","c":"LY","f":39.8,"m":-28},{"r":"LX","c":"LY","f":43.7,"m":-42},{"r":"LX","c":"LY","f":47.9,"m":-25},{"r":"LX","c":"LY","f":52.5,"m":-32},{"r":"LX","c":"LY","f":57.5,"m":-36},{"r":"LX","c":"LY","f":63.1,"m":-22},{"r":"LX","c":"LY","f":69.2,"m":-40},{"r":"LX","c":"LY","f":75.9,"m":-28},{"r":"LX","c":"LY","f":83.2,"m":-33},{"r":"LX","c":"LY","f":91.2,"m":-24},{"r":"LX","c":"LY","f":100,"m":-45},{"r":"LX","c":"LY","f":110,"m":-30},{"r":"LX","c":"LY","f":120,"m":-26},{"r":"LX","c":"LY","f":132,"m":-38},{"r":"LX","c":"LY","f":145,"m":-22},{"r":"LX","c":"LY","f":158,"m":-48},{"r":"LX","c":"LY","f":174,"m":-27},{"r":"LX","c":"LY","f":191,"m":-35},{"r":"LX","c":"LY","f":209,"m":-24},{"r":"LX","c":"LY","f":229,"m":-41},{"r":"LX","c":"LY","f":251,"m":-30},{"r":"LX","c":"LY","f":275,"m":-21},{"r":"LX","c":"LY","f":302,"m":-44},{"r":"LX","c":"LY","f":331,"m":-28},{"r":"LX","c":"LY","f":363,"m":-36},{"r":"LX","c":"LY","f":398,"m":-25},{"r":"LX","c":"LY","f":437,"m":-32},{"r":"LX","c":"LY","f":479,"m":-40},{"r":"LX","c":"LY","f":525,"m":-27},{"r":"LX","c":"LY","f":575,"m":-22},{"r":"LX","c":"LY","f":631,"m":-34},{"r":"LX","c":"LY","f":692,"m":-29},{"r":"LX","c":"LY","f":759,"m":-38},{"r":"LX","c":"LY","f":832,"m":-31},
{"r":"LX","c":"LY","f":912,"m":-36},{"r":"LX","c":"LY","f":1000,"m":-40},{"r":"LX","c":"LY","f":1096,"m":-37},{"r":"LX","c":"LY","f":1202,"m":-43},{"r":"LX","c":"LY","f":1318,"m":-39},{"r":"LX","c":"LY","f":1445,"m":-45},{"r":"LX","c":"LY","f":1585,"m":-42},{"r":"LX","c":"LY","f":1738,"m":-47},{"r":"LX","c":"LY","f":1905,"m":-44},{"r":"LX","c":"LY","f":2089,"m":-49},{"r":"LX","c":"LY","f":2291,"m":-45},{"r":"LX","c":"LY","f":2512,"m":-51},{"r":"LX","c":"LY","f":2754,"m":-47},{"r":"LX","c":"LY","f":3020,"m":-53},{"r":"LX","c":"LY","f":3311,"m":-48},{"r":"LX","c":"LY","f":3631,"m":-55},{"r":"LX","c":"LY","f":3981,"m":-50},{"r":"LX","c":"LY","f":4365,"m":-62},{"r":"LX","c":"LY","f":4786,"m":-52},{"r":"LX","c":"LY","f":5248,"m":-40},

{"r":"LY","c":"UX","f":2.09,"m":-25},{"r":"LY","c":"UX","f":2.82,"m":-25},{"r":"LY","c":"UX","f":3.55,"m":-24},{"r":"LY","c":"UX","f":4.17,"m":-26},{"r":"LY","c":"UX","f":5.01,"m":-22},{"r":"LY","c":"UX","f":6.31,"m":-18},{"r":"LY","c":"UX","f":7.94,"m":-14},{"r":"LY","c":"UX","f":10,"m":-9},{"r":"LY","c":"UX","f":11.5,"m":-5},{"r":"LY","c":"UX","f":12.6,"m":-3},{"r":"LY","c":"UX","f":14.5,"m":-13},{"r":"LY","c":"UX","f":16.6,"m":-16},{"r":"LY","c":"UX","f":20.0,"m":-20},{"r":"LY","c":"UX","f":24.0,"m":-26},
{"r":"LY","c":"UX","f":27.5,"m":-28},{"r":"LY","c":"UX","f":30.2,"m":-38},{"r":"LY","c":"UX","f":33.1,"m":-22},{"r":"LY","c":"UX","f":36.3,"m":-33},{"r":"LY","c":"UX","f":39.8,"m":-44},{"r":"LY","c":"UX","f":43.7,"m":-26},{"r":"LY","c":"UX","f":47.9,"m":-36},{"r":"LY","c":"UX","f":52.5,"m":-24},{"r":"LY","c":"UX","f":57.5,"m":-40},{"r":"LY","c":"UX","f":63.1,"m":-30},{"r":"LY","c":"UX","f":69.2,"m":-46},{"r":"LY","c":"UX","f":75.9,"m":-27},{"r":"LY","c":"UX","f":83.2,"m":-21},{"r":"LY","c":"UX","f":91.2,"m":-37},{"r":"LY","c":"UX","f":100,"m":-32},{"r":"LY","c":"UX","f":110,"m":-24},{"r":"LY","c":"UX","f":120,"m":-42},{"r":"LY","c":"UX","f":132,"m":-29},{"r":"LY","c":"UX","f":145,"m":-56},{"r":"LY","c":"UX","f":158,"m":-26},{"r":"LY","c":"UX","f":174,"m":-34},{"r":"LY","c":"UX","f":191,"m":-48},{"r":"LY","c":"UX","f":209,"m":-23},{"r":"LY","c":"UX","f":229,"m":-39},{"r":"LY","c":"UX","f":251,"m":-30},{"r":"LY","c":"UX","f":275,"m":-20},{"r":"LY","c":"UX","f":302,"m":-43},{"r":"LY","c":"UX","f":331,"m":-28},{"r":"LY","c":"UX","f":363,"m":-35},{"r":"LY","c":"UX","f":398,"m":-24},{"r":"LY","c":"UX","f":437,"m":-45},{"r":"LY","c":"UX","f":479,"m":-31},{"r":"LY","c":"UX","f":525,"m":-22},{"r":"LY","c":"UX","f":575,"m":-38},{"r":"LY","c":"UX","f":631,"m":-27},{"r":"LY","c":"UX","f":692,"m":-33},{"r":"LY","c":"UX","f":759,"m":-40},{"r":"LY","c":"UX","f":832,"m":-36},
{"r":"LY","c":"UX","f":912,"m":-38},{"r":"LY","c":"UX","f":1000,"m":-43},{"r":"LY","c":"UX","f":1096,"m":-37},{"r":"LY","c":"UX","f":1202,"m":-45},{"r":"LY","c":"UX","f":1318,"m":-41},{"r":"LY","c":"UX","f":1445,"m":-44},{"r":"LY","c":"UX","f":1585,"m":-42},{"r":"LY","c":"UX","f":1738,"m":-48},{"r":"LY","c":"UX","f":1905,"m":-44},{"r":"LY","c":"UX","f":2089,"m":-50},{"r":"LY","c":"UX","f":2291,"m":-46},{"r":"LY","c":"UX","f":2512,"m":-52},{"r":"LY","c":"UX","f":2754,"m":-48},{"r":"LY","c":"UX","f":3020,"m":-85},{"r":"LY","c":"UX","f":3311,"m":-50},{"r":"LY","c":"UX","f":3631,"m":-54},{"r":"LY","c":"UX","f":3981,"m":-48},{"r":"LY","c":"UX","f":4365,"m":-52},{"r":"LY","c":"UX","f":4786,"m":-46},{"r":"LY","c":"UX","f":5248,"m":-40},

{"r":"LY","c":"UY","f":2.19,"m":-27},{"r":"LY","c":"UY","f":2.82,"m":-26},{"r":"LY","c":"UY","f":3.55,"m":-25},{"r":"LY","c":"UY","f":4.17,"m":-23},{"r":"LY","c":"UY","f":5.01,"m":-22},{"r":"LY","c":"UY","f":6.31,"m":-18},{"r":"LY","c":"UY","f":7.94,"m":-14},{"r":"LY","c":"UY","f":10,"m":-10},{"r":"LY","c":"UY","f":12.0,"m":-6},{"r":"LY","c":"UY","f":13.5,"m":-14},{"r":"LY","c":"UY","f":15.8,"m":-18},{"r":"LY","c":"UY","f":18.2,"m":-14},{"r":"LY","c":"UY","f":20.9,"m":-8},{"r":"LY","c":"UY","f":23.4,"m":-20},{"r":"LY","c":"UY","f":25.1,"m":-27},
{"r":"LY","c":"UY","f":27.5,"m":-32},{"r":"LY","c":"UY","f":30.2,"m":-24},{"r":"LY","c":"UY","f":33.1,"m":-40},{"r":"LY","c":"UY","f":36.3,"m":-28},{"r":"LY","c":"UY","f":39.8,"m":-36},{"r":"LY","c":"UY","f":43.7,"m":-22},{"r":"LY","c":"UY","f":47.9,"m":-44},{"r":"LY","c":"UY","f":52.5,"m":-30},{"r":"LY","c":"UY","f":57.5,"m":-26},{"r":"LY","c":"UY","f":63.1,"m":-38},{"r":"LY","c":"UY","f":69.2,"m":-33},{"r":"LY","c":"UY","f":75.9,"m":-48},{"r":"LY","c":"UY","f":83.2,"m":-27},{"r":"LY","c":"UY","f":91.2,"m":-35},{"r":"LY","c":"UY","f":100,"m":-24},{"r":"LY","c":"UY","f":110,"m":-42},{"r":"LY","c":"UY","f":120,"m":-30},{"r":"LY","c":"UY","f":132,"m":-60},{"r":"LY","c":"UY","f":145,"m":-28},{"r":"LY","c":"UY","f":158,"m":-37},{"r":"LY","c":"UY","f":174,"m":-25},{"r":"LY","c":"UY","f":191,"m":-44},{"r":"LY","c":"UY","f":209,"m":-31},{"r":"LY","c":"UY","f":229,"m":-22},{"r":"LY","c":"UY","f":251,"m":-39},{"r":"LY","c":"UY","f":275,"m":-27},{"r":"LY","c":"UY","f":302,"m":-34},{"r":"LY","c":"UY","f":331,"m":-46},{"r":"LY","c":"UY","f":363,"m":-26},{"r":"LY","c":"UY","f":398,"m":-36},{"r":"LY","c":"UY","f":437,"m":-23},{"r":"LY","c":"UY","f":479,"m":-40},{"r":"LY","c":"UY","f":525,"m":-30},{"r":"LY","c":"UY","f":575,"m":-28},{"r":"LY","c":"UY","f":631,"m":-35},{"r":"LY","c":"UY","f":692,"m":-27},{"r":"LY","c":"UY","f":759,"m":-38},{"r":"LY","c":"UY","f":832,"m":-32},
{"r":"LY","c":"UY","f":912,"m":-40},{"r":"LY","c":"UY","f":1000,"m":-44},{"r":"LY","c":"UY","f":1096,"m":-42},{"r":"LY","c":"UY","f":1202,"m":-48},{"r":"LY","c":"UY","f":1318,"m":-45},{"r":"LY","c":"UY","f":1445,"m":-50},{"r":"LY","c":"UY","f":1585,"m":-46},{"r":"LY","c":"UY","f":1738,"m":-52},{"r":"LY","c":"UY","f":1905,"m":-48},{"r":"LY","c":"UY","f":2089,"m":-55},{"r":"LY","c":"UY","f":2291,"m":-50},{"r":"LY","c":"UY","f":2512,"m":-54},{"r":"LY","c":"UY","f":2754,"m":-51},{"r":"LY","c":"UY","f":3020,"m":-56},{"r":"LY","c":"UY","f":3311,"m":-52},{"r":"LY","c":"UY","f":3631,"m":-57},{"r":"LY","c":"UY","f":3981,"m":-50},{"r":"LY","c":"UY","f":4365,"m":-55},{"r":"LY","c":"UY","f":4786,"m":-48},{"r":"LY","c":"UY","f":5248,"m":-45},

{"r":"LY","c":"LX","f":2.09,"m":15},{"r":"LY","c":"LX","f":3.16,"m":14.5},{"r":"LY","c":"LX","f":5.01,"m":14},{"r":"LY","c":"LX","f":7.94,"m":13},{"r":"LY","c":"LX","f":11.2,"m":12},{"r":"LY","c":"LX","f":15.8,"m":10},{"r":"LY","c":"LX","f":19.1,"m":11},{"r":"LY","c":"LX","f":21.9,"m":7},{"r":"LY","c":"LX","f":28.2,"m":3},{"r":"LY","c":"LX","f":35.5,"m":0},{"r":"LY","c":"LX","f":44.7,"m":-4},{"r":"LY","c":"LX","f":56.2,"m":-9},{"r":"LY","c":"LX","f":70.8,"m":-14},{"r":"LY","c":"LX","f":83.2,"m":-18},{"r":"LY","c":"LX","f":91.2,"m":-24},{"r":"LY","c":"LX","f":100,"m":-20},{"r":"LY","c":"LX","f":110,"m":-32},{"r":"LY","c":"LX","f":120,"m":-26},{"r":"LY","c":"LX","f":132,"m":-42},{"r":"LY","c":"LX","f":145,"m":-30},{"r":"LY","c":"LX","f":158,"m":-36},{"r":"LY","c":"LX","f":174,"m":-22},{"r":"LY","c":"LX","f":191,"m":-15},{"r":"LY","c":"LX","f":219,"m":-6},{"r":"LY","c":"LX","f":251,"m":-1},{"r":"LY","c":"LX","f":275,"m":-15},{"r":"LY","c":"LX","f":302,"m":-28},{"r":"LY","c":"LX","f":331,"m":-22},{"r":"LY","c":"LX","f":363,"m":-32},{"r":"LY","c":"LX","f":398,"m":-24},{"r":"LY","c":"LX","f":437,"m":-30},{"r":"LY","c":"LX","f":479,"m":-23},{"r":"LY","c":"LX","f":525,"m":-34},{"r":"LY","c":"LX","f":575,"m":-25},{"r":"LY","c":"LX","f":631,"m":-30},{"r":"LY","c":"LX","f":692,"m":-36},{"r":"LY","c":"LX","f":759,"m":-29},{"r":"LY","c":"LX","f":832,"m":-40},{"r":"LY","c":"LX","f":912,"m":-33},{"r":"LY","c":"LX","f":1000,"m":-44},{"r":"LY","c":"LX","f":1096,"m":-37},{"r":"LY","c":"LX","f":1202,"m":-46},{"r":"LY","c":"LX","f":1318,"m":-40},{"r":"LY","c":"LX","f":1445,"m":-48},{"r":"LY","c":"LX","f":1585,"m":-42},{"r":"LY","c":"LX","f":1738,"m":-50},{"r":"LY","c":"LX","f":1905,"m":-45},{"r":"LY","c":"LX","f":2089,"m":-55},{"r":"LY","c":"LX","f":2291,"m":-47},{"r":"LY","c":"LX","f":2512,"m":-53},{"r":"LY","c":"LX","f":2754,"m":-48},{"r":"LY","c":"LX","f":3020,"m":-56},{"r":"LY","c":"LX","f":3311,"m":-47},{"r":"LY","c":"LX","f":3631,"m":-52},{"r":"LY","c":"LX","f":3981,"m":-46},{"r":"LY","c":"LX","f":4365,"m":-50},{"r":"LY","c":"LX","f":4786,"m":-42},{"r":"LY","c":"LX","f":5248,"m":-38},

{"r":"LY","c":"LY","f":2.09,"m":15},{"r":"LY","c":"LY","f":3.16,"m":14.5},{"r":"LY","c":"LY","f":5.01,"m":14},{"r":"LY","c":"LY","f":7.94,"m":13},{"r":"LY","c":"LY","f":11.2,"m":12},{"r":"LY","c":"LY","f":15.8,"m":10},{"r":"LY","c":"LY","f":19.1,"m":9},{"r":"LY","c":"LY","f":20.9,"m":11},{"r":"LY","c":"LY","f":24.0,"m":7},{"r":"LY","c":"LY","f":28.2,"m":3},{"r":"LY","c":"LY","f":35.5,"m":-1},{"r":"LY","c":"LY","f":44.7,"m":-6},{"r":"LY","c":"LY","f":56.2,"m":-10},{"r":"LY","c":"LY","f":70.8,"m":-16},{"r":"LY","c":"LY","f":83.2,"m":-20},{"r":"LY","c":"LY","f":91.2,"m":-27},{"r":"LY","c":"LY","f":100,"m":-22},{"r":"LY","c":"LY","f":110,"m":-38},{"r":"LY","c":"LY","f":120,"m":-28},{"r":"LY","c":"LY","f":132,"m":-44},{"r":"LY","c":"LY","f":145,"m":-32},{"r":"LY","c":"LY","f":158,"m":-25},{"r":"LY","c":"LY","f":182,"m":-15},{"r":"LY","c":"LY","f":219,"m":-6},{"r":"LY","c":"LY","f":251,"m":-1},{"r":"LY","c":"LY","f":275,"m":-12},{"r":"LY","c":"LY","f":302,"m":-28},{"r":"LY","c":"LY","f":331,"m":-20},{"r":"LY","c":"LY","f":363,"m":-33},{"r":"LY","c":"LY","f":398,"m":-24},{"r":"LY","c":"LY","f":437,"m":-30},{"r":"LY","c":"LY","f":479,"m":-26},{"r":"LY","c":"LY","f":525,"m":-34},{"r":"LY","c":"LY","f":575,"m":-25},{"r":"LY","c":"LY","f":631,"m":-31},{"r":"LY","c":"LY","f":692,"m":-38},{"r":"LY","c":"LY","f":759,"m":-30},{"r":"LY","c":"LY","f":832,"m":-42},{"r":"LY","c":"LY","f":912,"m":-34},{"r":"LY","c":"LY","f":1000,"m":-45},{"r":"LY","c":"LY","f":1096,"m":-38},{"r":"LY","c":"LY","f":1202,"m":-48},{"r":"LY","c":"LY","f":1318,"m":-42},{"r":"LY","c":"LY","f":1445,"m":-52},{"r":"LY","c":"LY","f":1585,"m":-44},{"r":"LY","c":"LY","f":1738,"m":-53},{"r":"LY","c":"LY","f":1905,"m":-47},{"r":"LY","c":"LY","f":2089,"m":-56},{"r":"LY","c":"LY","f":2291,"m":-49},{"r":"LY","c":"LY","f":2512,"m":-58},{"r":"LY","c":"LY","f":2754,"m":-50},{"r":"LY","c":"LY","f":3020,"m":-55},{"r":"LY","c":"LY","f":3311,"m":-48},{"r":"LY","c":"LY","f":3631,"m":-57},{"r":"LY","c":"LY","f":3981,"m":-50},{"r":"LY","c":"LY","f":4365,"m":-54},{"r":"LY","c":"LY","f":4786,"m":-46},{"r":"LY","c":"LY","f":5248,"m":-40}
]},
"facet":{
 "row":{"field":"r","type":"nominal","sort":["UX","UY","LX","LY"],"header":{"title":"Magnitude (dB)","labelOrient":"left","titleOrient":"left","labelAngle":-90,"labelFontSize":10,"titleFontSize":10,"titleFontWeight":"normal","labelColor":"#333","titleColor":"#000","labelPadding":0,"titlePadding":-6,"labelFont":"Liberation Sans","titleFont":"Liberation Sans"}},
 "column":{"field":"c","type":"nominal","sort":["UX","UY","LX","LY"],"header":{"title":"Frequency  (Hz)","labelOrient":"top","titleOrient":"bottom","labelFontSize":10,"titleFontSize":10,"titleFontWeight":"normal","labelColor":"#333","titleColor":"#000","labelPadding":4,"titlePadding":0,"labelFont":"Liberation Sans","titleFont":"Liberation Sans"}}
},
"spacing":{"row":10,"column":11},
"spec":{
 "width":117,"height":89,
 "mark":{"type":"line","color":"#0000ee","strokeWidth":1,"clip":true},
 "encoding":{
  "x":{"field":"f","type":"quantitative","scale":{"type":"log","domain":[1,10000],"nice":false},
       "axis":{"values":[1,100,10000],"labelExpr":"datum.value == 1 ? '10⁰' : datum.value == 100 ? '10²' : '10⁴'","labelAlign":{"condition":{"test":"datum.value == 10000","value":"right"},"value":"center"},"labelFlush":false,"labelOverlap":false,"title":null,"labelPadding":3}},
  "y":{"field":"m","type":"quantitative","scale":{"domain":[-100,50],"nice":false,"zero":false},
       "axis":{"values":[-100,-50,0,50],"labelFlush":false,"labelOverlap":false,"title":null,"labelPadding":3}}
 }
},
"config":{
 "font":"Liberation Sans",
 "view":{"stroke":"#555","strokeWidth":1},
 "axis":{"grid":true,"gridDash":[3,3],"gridColor":"#444","gridOpacity":1,"gridWidth":1,"domain":false,"ticks":false,"tickSize":0,"labelFontSize":10,"labelColor":"#333","labelFont":"Liberation Sans"}
}
}
